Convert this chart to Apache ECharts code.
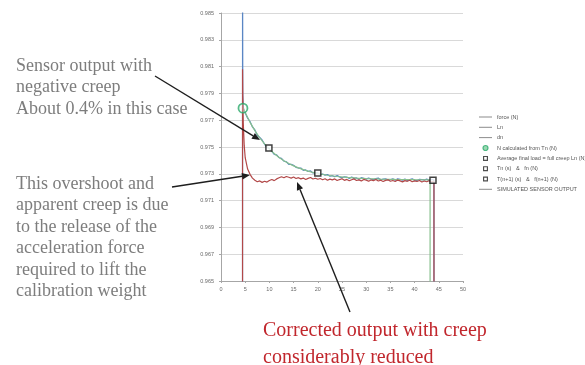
<!DOCTYPE html>
<html>
<head>
<meta charset="utf-8">
<script src="https://cdn.jsdelivr.net/npm/echarts@6/dist/echarts.min.js"></script>
<style>
  html, body { margin: 0; padding: 0; background: #ffffff; }
  #chart { width: 585px; height: 365px; }
</style>
</head>
<body>
<div id="chart"></div>
<script>
// Sampling instants (s) for the measured force and the simulated sensor output
var sampleTimeS = [
  4.45, 4.45, 4.5, 4.6, 4.8,
  5.0, 5.5, 6.0, 6.5, 7.0, 7.5, 8.0, 8.5, 9.0, 9.5,
  10.0, 10.5, 11.0, 11.5, 12.0, 12.5, 13.0, 13.5, 14.0, 14.5,
  15.0, 15.5, 16.0, 16.5, 17.0, 17.5, 18.0, 18.5, 19.0, 19.5,
  20.0, 20.5, 21.0, 21.5, 22.0, 22.5, 23.0, 23.5, 24.0, 24.5,
  25.0, 25.5, 26.0, 26.5, 27.0, 27.5, 28.0, 28.5, 29.0, 29.5,
  30.0, 30.5, 31.0, 31.5, 32.0, 32.5, 33.0, 33.5, 34.0, 34.5,
  35.0, 35.5, 36.0, 36.5, 37.0, 37.5, 38.0, 38.5, 39.0, 39.5,
  40.0, 40.5, 41.0, 41.5, 42.0, 42.5, 43.0, 43.5, 44.0,
  44.4, 44.4
];

// force (N): raw sensor output with negative creep
var forceN = [
  0, 0.99050, 0.97900, 0.97795, 0.97770,
  0.97760, 0.97715, 0.97690, 0.97650, 0.97627, 0.97588, 0.97571, 0.97552, 0.97520, 0.97498,
  0.97488, 0.97468, 0.97444, 0.97441, 0.97420, 0.97416, 0.97394, 0.97390, 0.97371, 0.97370,
  0.97364, 0.97348, 0.97343, 0.97343, 0.97326, 0.97329, 0.97318, 0.97322, 0.97306, 0.97307,
  0.97307, 0.97293, 0.97298, 0.97290, 0.97295, 0.97282, 0.97286, 0.97278, 0.97287, 0.97277,
  0.97270, 0.97278, 0.97276, 0.97266, 0.97276, 0.97266, 0.97269, 0.97260, 0.97271, 0.97267,
  0.97260, 0.97269, 0.97261, 0.97257, 0.97264, 0.97268, 0.97254, 0.97261, 0.97263, 0.97256,
  0.97256, 0.97263, 0.97251, 0.97263, 0.97259, 0.97253, 0.97260, 0.97251, 0.97257, 0.97262,
  0.97253, 0.97250, 0.97259, 0.97257, 0.97254, 0.97260, 0.97251, 0.97258, 0.97253,
  0.97255, 0
];

// SIMULATED SENSOR OUTPUT: corrected output
var simulatedN = [
  0, 0.98080, 0.97880, 0.97680, 0.97510,
  0.97420, 0.97335, 0.97296, 0.97268, 0.97252, 0.97241, 0.97247, 0.97236, 0.97244, 0.97238,
  0.97250, 0.97257, 0.97249, 0.97262, 0.97270, 0.97278, 0.97271, 0.97280, 0.97274, 0.97268,
  0.97276, 0.97265, 0.97271, 0.97262, 0.97268, 0.97258, 0.97266, 0.97272, 0.97261, 0.97267,
  0.97259, 0.97265, 0.97256, 0.97263, 0.97252, 0.97260, 0.97255, 0.97262, 0.97250, 0.97257,
  0.97263, 0.97251, 0.97258, 0.97248, 0.97256, 0.97262, 0.97250, 0.97255, 0.97247, 0.97258,
  0.97252, 0.97245, 0.97254, 0.97249, 0.97257, 0.97246, 0.97252, 0.97243, 0.97251, 0.97255,
  0.97244, 0.97250, 0.97242, 0.97253, 0.97247, 0.97240, 0.97249, 0.97244, 0.97252, 0.97241,
  0.97247, 0.97243, 0.97250, 0.97239, 0.97246, 0.97241, 0.97248, 0.97240, 0.97245,
  0.97242, 0
];

// Ln: fitted creep curve
var lnTimeS = [4.54, 5, 6, 7, 8, 9, 10, 11, 12, 13, 14, 15, 16, 17, 18, 19, 20,
               22, 24, 26, 28, 30, 33, 36, 40, 43.2, 43.2];
var lnN = [0.97794, 0.97757, 0.97684, 0.97622, 0.97569, 0.97523, 0.97484, 0.97451,
           0.97422, 0.97398, 0.97377, 0.97359, 0.97344, 0.97331, 0.97320, 0.97310,
           0.97302, 0.97289, 0.97280, 0.97273, 0.97268, 0.97264, 0.97260, 0.97258,
           0.97256, 0.97255, 0];

// dn: increments, off the plotted range
var dnN = [];

// Marked points [time (s), force (N)]
var nCalculatedPoint = [[4.54, 0.97790]];
var averageFinalPoint = [[43.8, 0.97252]];
var tnFnPoint = [[9.9, 0.97493]];
var tn1Fn1Point = [[20.0, 0.97306]];

// Axis tick settings
var xTicks = { min: 0, max: 50, step: 5 };
var yTicks = { min: 0.965, max: 0.985, step: 0.002 };

function zip(times, values) {
  var out = [];
  for (var i = 0; i < values.length; i++) out.push([times[i], values[i]]);
  return out;
}

var chart = echarts.init(document.getElementById('chart'), null, { renderer: 'canvas' });

var serifFont = '"Liberation Serif", "Times New Roman", serif';
var grayText = '#7d7d7d';
var redText = '#c1272d';

function textEl(str, x, y, size, color) {
  return {
    type: 'text', left: x, top: y, z: 100,
    style: { text: str, fontFamily: serifFont, fontSize: size, fill: color }
  };
}

function arrowEl(x1, y1, x2, y2) {
  var dx = x2 - x1, dy = y2 - y1;
  var len = Math.sqrt(dx * dx + dy * dy);
  var ux = dx / len, uy = dy / len;
  var hl = 8, hw = 3.3;
  var bx = x2 - ux * hl, by = y2 - uy * hl;
  var nx = -uy, ny = ux;
  return [
    { type: 'line', z: 100, shape: { x1: x1, y1: y1, x2: bx, y2: by },
      style: { stroke: '#1e1e1e', lineWidth: 1.4 } },
    { type: 'polygon', z: 100,
      shape: { points: [[x2, y2], [bx + nx * hw, by + ny * hw], [bx - nx * hw, by - ny * hw]] },
      style: { fill: '#1e1e1e' } }
  ];
}

var graphics = [
  textEl('Sensor output with', 16, 57, 18, grayText),
  textEl('negative creep', 16, 78.5, 18, grayText),
  textEl('About 0.4% in this case', 16, 100, 18, grayText),
  textEl('This overshoot and', 16, 175, 18, grayText),
  textEl('apparent creep is due', 16, 196.5, 18, grayText),
  textEl('to the release of the', 16, 218, 18, grayText),
  textEl('acceleration force', 16, 239.5, 18, grayText),
  textEl('required to lift the', 16, 261, 18, grayText),
  textEl('calibration weight', 16, 282.5, 18, grayText),
  textEl('Corrected output with creep', 263, 321, 20, redText),
  textEl('considerably reduced', 263, 348, 20, redText)
].concat(arrowEl(155, 76, 260, 140))
 .concat(arrowEl(172, 187, 250, 175))
 .concat(arrowEl(350, 312, 297, 182));

// Legend icons: thin strokes for lines, squares for the marked points
var lineIcon = 'path://M0,0L14,0L14,1.1L0,1.1Z';
var squareIcon = 'path://M0,0L6,0L6,6L0,6ZM1.4,1.4L1.4,4.6L4.6,4.6L4.6,1.4Z';
var circleIcon = 'circle';

var option = {
  animation: false,
  backgroundColor: '#ffffff',
  grid: { left: 221, right: 122, top: 13, bottom: 84 },
  xAxis: {
    type: 'value', min: xTicks.min, max: xTicks.max, interval: xTicks.step,
    axisLine: { lineStyle: { color: '#a6a6a6', width: 1 } },
    axisTick: { show: true, length: 2, lineStyle: { color: '#a6a6a6' } },
    axisLabel: { fontSize: 5.5, color: '#6a6a6a', margin: 5, fontFamily: 'Liberation Sans' },
    splitLine: { show: false }
  },
  yAxis: {
    type: 'value', min: yTicks.min, max: yTicks.max, interval: yTicks.step,
    axisLine: { show: true, lineStyle: { color: '#a6a6a6', width: 1 } },
    axisTick: { show: true, length: 2, lineStyle: { color: '#a6a6a6' } },
    axisLabel: { fontSize: 5.5, color: '#6a6a6a', margin: 7, fontFamily: 'Liberation Sans',
                 formatter: function (v) { return v.toFixed(3); } },
    splitLine: { show: true, lineStyle: { color: '#d9d9d9', width: 1 } }
  },
  legend: {
    orient: 'vertical', left: 474, top: 109,
    itemWidth: 13, itemHeight: 5, itemGap: 4.3,
    symbolKeepAspect: true,
    textStyle: { fontSize: 5.5, color: '#555555', fontFamily: 'Liberation Sans' },
    data: [
      { name: 'force (N)', icon: lineIcon, itemStyle: { color: '#8e8e8e' } },
      { name: 'Ln', icon: lineIcon, itemStyle: { color: '#8e8e8e' } },
      { name: 'dn', icon: lineIcon, itemStyle: { color: '#8e8e8e' } },
      { name: 'N calculated from Tn (N)', icon: circleIcon,
        itemStyle: { color: '#7fcf9f', borderColor: '#2caa6c', borderWidth: 1.2 } },
      { name: 'Average final load = full creep Ln (N)', icon: squareIcon, itemStyle: { color: '#222222', borderWidth: 0 } },
      { name: 'Tn (s)   &   fn (N)', icon: squareIcon, itemStyle: { color: '#222222', borderWidth: 0 } },
      { name: 'T(n+1) (s)   &   f(n+1) (N)', icon: squareIcon, itemStyle: { color: '#222222', borderWidth: 0 } },
      { name: 'SIMULATED SENSOR OUTPUT', icon: lineIcon, itemStyle: { color: '#8e8e8e' } }
    ]
  },
  series: [
    { name: 'force (N)', type: 'line', data: zip(sampleTimeS, forceN),
      symbol: 'none', clip: true, z: 2,
      lineStyle: { color: '#5a86c4', width: 1.2 }, itemStyle: { color: '#5a86c4' } },
    { name: 'Ln', type: 'line', data: zip(lnTimeS, lnN),
      symbol: 'none', clip: true, z: 3,
      lineStyle: { color: '#86bf8c', width: 1.2 }, itemStyle: { color: '#86bf8c' } },
    { name: 'dn', type: 'line', data: dnN,
      symbol: 'none', clip: true,
      lineStyle: { color: '#9bbb59', width: 1 }, itemStyle: { color: '#9bbb59' } },
    { name: 'SIMULATED SENSOR OUTPUT', type: 'line', data: zip(sampleTimeS, simulatedN),
      symbol: 'none', clip: true, z: 4,
      lineStyle: { color: '#b24848', width: 1.2 }, itemStyle: { color: '#b24848' } },
    { name: 'N calculated from Tn (N)', type: 'scatter', data: nCalculatedPoint,
      symbol: 'circle', symbolSize: 9, z: 6,
      itemStyle: { color: 'rgba(255,255,255,0.3)', borderColor: '#2caa6c', borderWidth: 1.8 } },
    { name: 'Average final load = full creep Ln (N)', type: 'scatter', data: averageFinalPoint,
      symbol: 'rect', symbolSize: 6, z: 6,
      itemStyle: { color: '#ffffff', borderColor: '#111111', borderWidth: 1.5 } },
    { name: 'Tn (s)   &   fn (N)', type: 'scatter', data: tnFnPoint,
      symbol: 'rect', symbolSize: 6, z: 6,
      itemStyle: { color: '#ffffff', borderColor: '#111111', borderWidth: 1.5 } },
    { name: 'T(n+1) (s)   &   f(n+1) (N)', type: 'scatter', data: tn1Fn1Point,
      symbol: 'rect', symbolSize: 6, z: 6,
      itemStyle: { color: '#ffffff', borderColor: '#111111', borderWidth: 1.5 } }
  ],
  graphic: graphics
};

chart.setOption(option);
</script>
</body>
</html>
